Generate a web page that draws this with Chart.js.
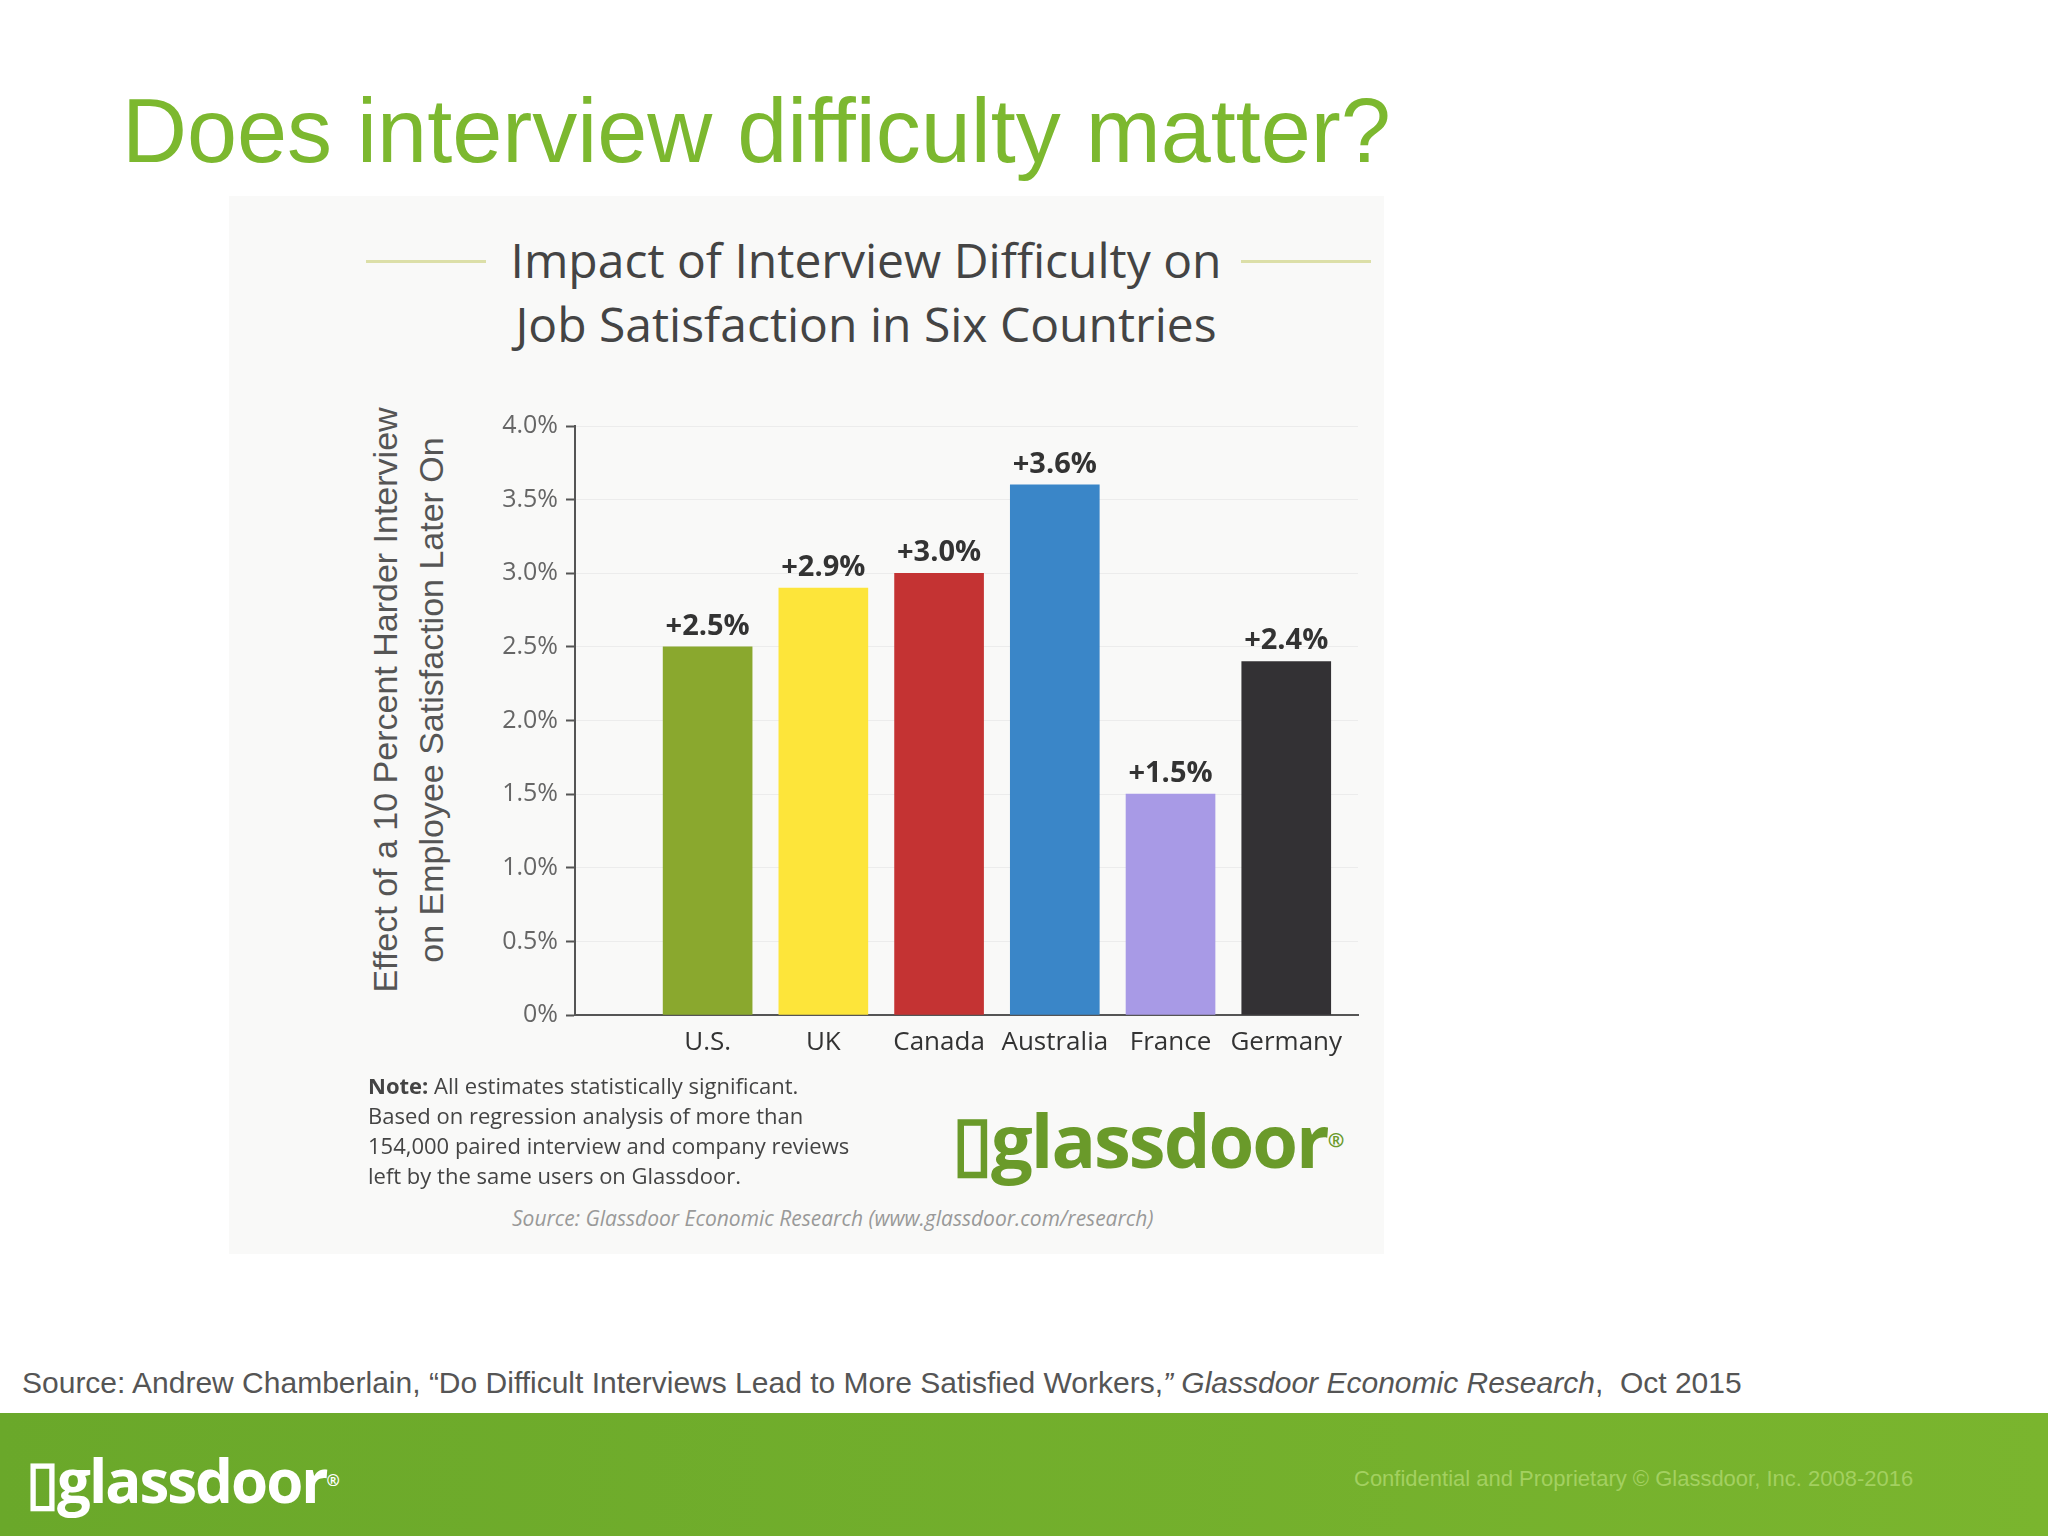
<!DOCTYPE html>
<html><head><meta charset="utf-8">
<script src="https://cdn.jsdelivr.net/npm/chart.js@4"></script>
<style>
body{margin:0;width:2048px;height:1536px;background:#fff;position:relative;overflow:hidden;font-family:"Liberation Sans",Arial,sans-serif}
.a{position:absolute;white-space:nowrap}
</style></head><body>
<div class="a" style="left:122px;top:76px;font-size:90px;color:#7cb82f;line-height:110px">Does interview difficulty matter?</div>
<div class="a" style="left:229px;top:196px;width:1155px;height:1058px;background:#f9f9f8"></div>
<div class="a" style="left:366px;top:260px;width:120px;height:3px;background:#dcdfa8"></div>
<div class="a" style="left:1241px;top:260px;width:130px;height:3px;background:#dcdfa8"></div>
<div class="a" style="left:466px;top:228px;width:800px;text-align:center;font-family:'Open Sans',sans-serif;font-size:48px;line-height:64px;color:#444">Impact of Interview Difficulty on<br>Job Satisfaction in Six Countries</div>
<div class="a" style="left:408px;top:700px;transform:translate(-50%,-50%) rotate(-90deg);text-align:center;font-size:34px;line-height:46px;color:#555">Effect of a 10 Percent Harder Interview<br>on Employee Satisfaction Later On</div>
<div style="position:absolute;left:340px;top:380px;width:1040px;height:700px"><canvas id="c"></canvas></div>
<div class="a" style="left:368px;top:1070px;font-family:'Open Sans',sans-serif;font-size:22px;line-height:30px;color:#444">
<b>Note:</b> All estimates statistically significant.<br>Based on regression analysis of more than<br>154,000 paired interview and company reviews<br>left by the same users on Glassdoor.</div>
<div class="a" style="left:952px;top:1090px;font-family:'Open Sans',sans-serif;font-weight:bold;font-size:74px;line-height:100px;color:#6a9a2a;letter-spacing:-2px">▯glassdoor<span style="font-size:20px;vertical-align:top">®</span></div>
<div class="a" style="left:512px;top:1204px;font-family:'Open Sans',sans-serif;font-style:italic;font-size:21px;color:#999">Source: Glassdoor Economic Research (www.glassdoor.com/research)</div>
<div class="a" style="left:22px;top:1366px;font-size:30px;color:#555">Source: Andrew Chamberlain, “Do Difficult Interviews Lead to More Satisfied Workers,<i>” Glassdoor Economic Research</i>,&nbsp; Oct 2015</div>
<div class="a" style="left:0;top:1413px;width:2048px;height:123px;background:linear-gradient(90deg,#6aa82a,#7ab52e)"></div>
<div class="a" style="left:26px;top:1440px;font-family:'Open Sans',sans-serif;font-weight:bold;font-size:60px;line-height:80px;color:#fff;letter-spacing:-2px">▯glassdoor<span style="font-size:16px;vertical-align:top">®</span></div>
<div class="a" style="left:1354px;top:1466px;font-size:22px;color:#a3d060">Confidential and Proprietary © Glassdoor, Inc. 2008-2016</div>
<script>
const categories=["U.S.","UK","Canada","Australia","France","Germany"];
const values=[2.5,2.9,3.0,3.6,1.5,2.4];
const colors=["#8aa82e","#fde53a","#c43333","#3a86c8","#a89ae6","#333134"];
const yTicks=[0,0.5,1,1.5,2,2.5,3,3.5,4];
const labelPlugin={id:'lbl',afterDatasetsDraw(ch){const c=ch.ctx;const m=ch.getDatasetMeta(0);c.save();c.font="bold 29px 'Open Sans',sans-serif";c.fillStyle="#333";c.textAlign="center";c.textBaseline="bottom";
m.data.forEach((b,i)=>c.fillText("+"+values[i].toFixed(1)+"%",b.x,b.y-6));c.restore();}};
new Chart(document.getElementById('c'),{type:'bar',
data:{datasets:[{data:values.map((v,i)=>({x:i,y:v})),backgroundColor:colors,barThickness:89}]},
options:{responsive:true,maintainAspectRatio:false,animation:false,
layout:{padding:{top:46,right:22}},
plugins:{legend:{display:false},tooltip:{enabled:false}},
scales:{
x:{type:'linear',min:-1.146,max:5.62,offset:false,
afterBuildTicks(s){s.ticks=categories.map((_,i)=>({value:i}));},
afterFit(s){s.height=65;},
grid:{display:false},border:{color:'#555',width:2},
ticks:{callback:v=>categories[v]||'',color:'#333',font:{size:26,family:"'Open Sans',sans-serif"},padding:4,autoSkip:false,maxRotation:0}},
y:{min:0,max:4,afterBuildTicks(s){s.ticks=yTicks.map(v=>({value:v}));},
afterFit(s){s.width=235;},
grid:{color:'#ececec',tickColor:'#555',tickLength:9,tickWidth:2},border:{color:'#555',width:2},
ticks:{callback:v=>v===0?'0%':v.toFixed(1)+'%',color:'#666',font:{size:25,family:"'Open Sans',sans-serif"},padding:8}}
}},plugins:[labelPlugin]});
</script>
</body></html>
